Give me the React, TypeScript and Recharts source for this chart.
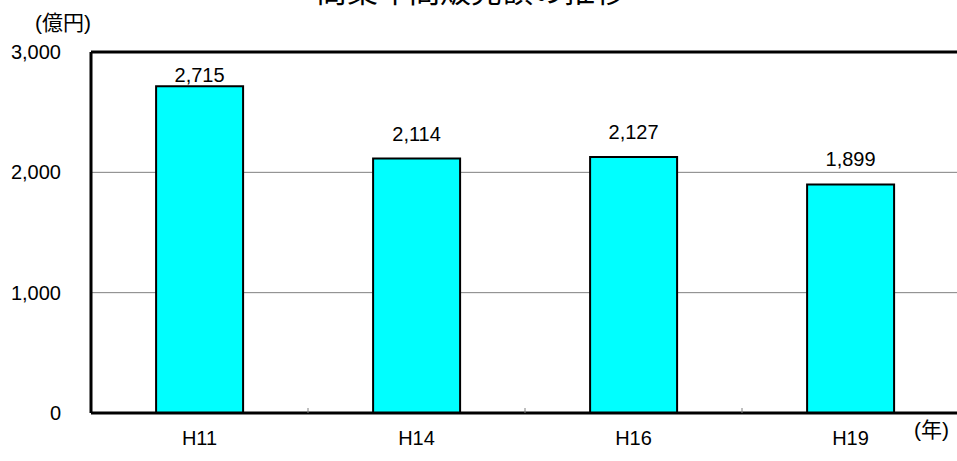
import { BarChart, Bar, XAxis, YAxis, CartesianGrid, ReferenceLine, LabelList } from 'recharts';

const years = ['H11', 'H14', 'H16', 'H19'];
const sales = [2715, 2114, 2127, 1899];
const yTicks = [0, 1000, 2000, 3000];

const data = years.map((year, i) => ({ year, sales: sales[i] }));

const FONT = '"Liberation Sans", Arial, "Noto Sans CJK JP", sans-serif';

const fmt = (v: number) => v.toLocaleString('en-US');

function YTick({ y, payload }: any) {
  return (
    <text x={61} y={y} dy={7} textAnchor="end" fontSize={20} fontFamily={FONT} fill="#000">
      {fmt(payload.value)}
    </text>
  );
}

function XTick({ x, y, payload, index }: any) {
  const half = payload.offset || 0;
  return (
    <g>
      {index > 0 && <line x1={x - half} x2={x - half} y1={y - 5} y2={y} stroke="#808080" strokeWidth={1} />}
      <text x={x} y={y + 32} textAnchor="middle" fontSize={20} fontFamily={FONT} fill="#000">
        {payload.value}
      </text>
    </g>
  );
}

function ValueLabel({ x, y, width, value, index }: any) {
  // the tallest label sits tight to its bar, the rest float higher
  const gap = index === 0 ? 4 : 18;
  return (
    <text x={x + width / 2} y={y - gap} textAnchor="middle" fontSize={20} fontFamily={FONT} fill="#000">
      {fmt(value)}
    </text>
  );
}

export default function App() {
  return (
    <div style={{ position: 'absolute', left: 0, top: 0, width: 957, height: 461, overflow: 'hidden', background: '#fff' }}>
      <BarChart
        width={965}
        height={461}
        data={data}
        margin={{ top: 52, right: 6, bottom: 0, left: 0 }}
        barCategoryGap="30%"
      >
        <CartesianGrid vertical={false} stroke="#808080" strokeWidth={1} />
        <XAxis
          dataKey="year"
          height={48}
          axisLine={{ stroke: '#000', strokeWidth: 3 }}
          tickLine={false}
          tickSize={0}
          tickMargin={0}
          tick={<XTick />}
          interval={0}
        />
        <YAxis
          width={91}
          domain={[0, 3000]}
          ticks={yTicks}
          interval={0}
          axisLine={{ stroke: '#000', strokeWidth: 3 }}
          tickLine={false}
          tick={<YTick />}
        />
        <ReferenceLine y={3000} stroke="#000" strokeWidth={3} />
        <Bar dataKey="sales" fill="#00FFFF" stroke="#000" strokeWidth={2} isAnimationActive={false}>
          <LabelList dataKey="sales" content={<ValueLabel />} />
        </Bar>
      </BarChart>
      <svg width={957} height={461} style={{ position: 'absolute', left: 0, top: 0, pointerEvents: 'none' }}>
        <text x={471} y={2} textAnchor="middle" fontSize={31} fontFamily='"Noto Sans CJK JP", sans-serif' fill="#000">
          商業年間販売額の推移
        </text>
        <text x={35} y={30} fontSize={21} fontFamily={FONT} fill="#000">
          (億円)
        </text>
        <text x={914} y={437} fontSize={21} fontFamily={FONT} fill="#000">
          (年)
        </text>
      </svg>
    </div>
  );
}
